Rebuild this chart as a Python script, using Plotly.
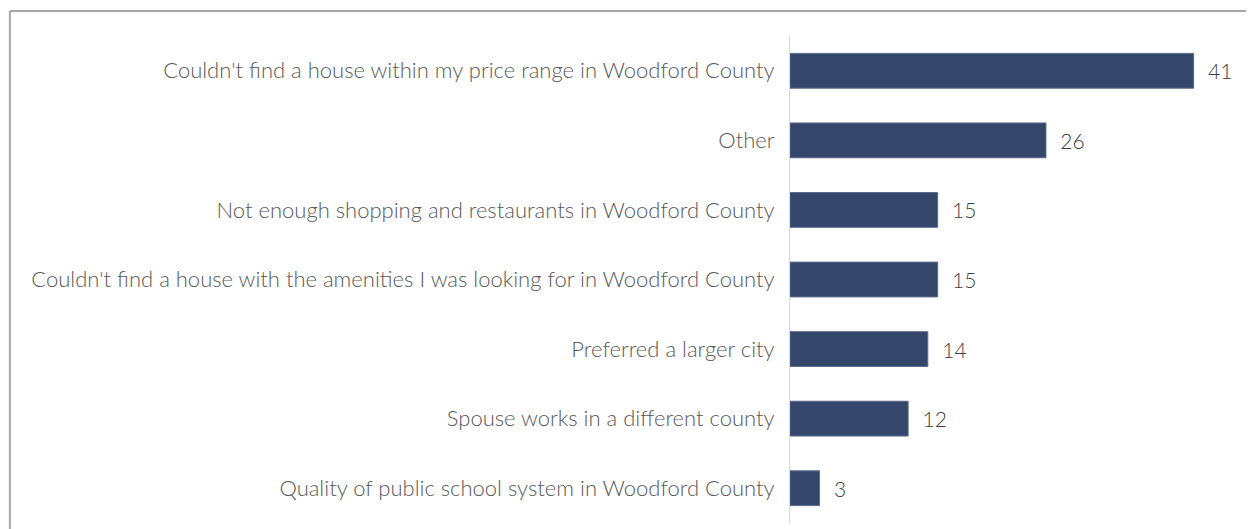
import plotly.graph_objects as go

reasons = [
    "Couldn't find a house within my price range in Woodford County",
    "Other",
    "Not enough shopping and restaurants in Woodford County",
    "Couldn't find a house with the amenities I was looking for in Woodford County",
    "Preferred a larger city",
    "Spouse works in a different county",
    "Quality of public school system in Woodford County",
]
counts = [41, 26, 15, 15, 14, 12, 3]

fig = go.Figure(go.Bar(
    x=counts,
    y=reasons,
    orientation='h',
    marker=dict(color='#34476b', line=dict(color='#5a6a8c', width=1)),
    text=['  ' + str(c) for c in counts],
    textposition='outside',
    textfont=dict(size=21, color='#404040', weight=300),
    cliponaxis=False,
))

# page body adds ~8px offset, so margins are shifted back by that
fig.update_layout(
    width=1254,
    height=529,
    margin=dict(l=782, r=29, t=28, b=14),
    plot_bgcolor='white',
    paper_bgcolor='white',
    font=dict(family='Lato, sans-serif', size=22, color='#595959', weight=300),
    bargap=0.5,
    showlegend=False,
    xaxis=dict(range=[0, 45], visible=False, fixedrange=True),
    yaxis=dict(
        autorange='reversed',
        showline=True, linecolor='#d9d9d9', linewidth=1,
        showgrid=False, ticks='', ticklabelstandoff=10,
        tickfont=dict(size=22, color='#595959', weight=300),
    ),
    shapes=[
        # outer frame (top and left edges visible in the crop)
        dict(type='line', xref='paper', yref='paper',
             x0=-1.761, x1=1.2, y0=1.0513, y1=1.0513,
             line=dict(color='#a6a6a6', width=2)),
        dict(type='line', xref='paper', yref='paper',
             x0=-1.761, x1=-1.761, y0=1.0513, y1=-0.1,
             line=dict(color='#a6a6a6', width=2)),
    ],
)

fig.write_html("out.html")
